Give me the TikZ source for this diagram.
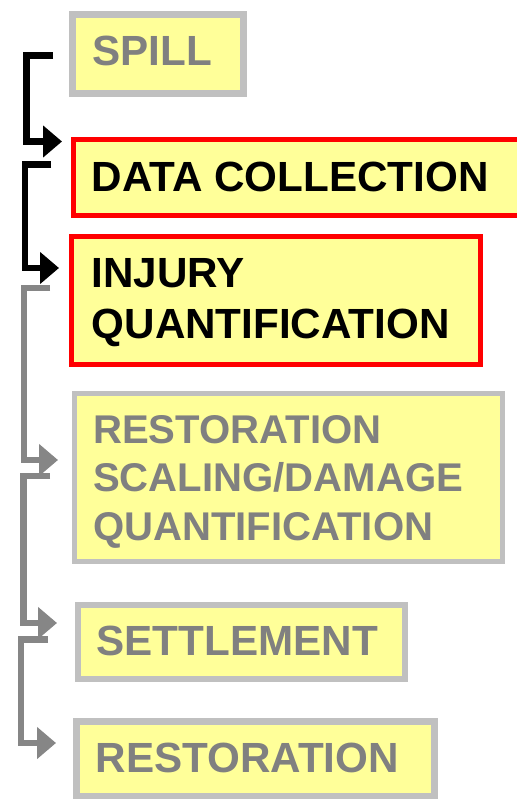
\documentclass[tikz,border=0pt]{standalone}
\usepackage{fontspec}
\setmainfont{Liberation Sans}
\usetikzlibrary{arrows.meta}
\definecolor{boxfill}{HTML}{FFFF99}
\definecolor{boxgray}{HTML}{C0C0C0}
\definecolor{txtgray}{HTML}{808080}
\definecolor{linegray}{HTML}{868686}
\definecolor{boxred}{HTML}{FF0000}
\tikzset{
  stepbox/.style={fill=boxfill, inner sep=0pt, outer sep=0pt, anchor=north west},
  graybox/.style={stepbox, draw=boxgray},
  redbox/.style={stepbox, draw=boxred},
  steptext/.style={inner sep=0pt, anchor=base west, align=left, font=\bfseries\fontsize{42.2}{51}\selectfont},
  flow/.style={line width=6.5pt, -{Triangle[length=19pt,width=31pt]}},
}
\begin{document}
\begin{tikzpicture}[x=1pt,y=-1pt]
\useasboundingbox (0,0) rectangle (516,799);
% boxes
\node[graybox, line width=7pt, minimum width=171pt, minimum height=79pt] (spill) at (72.5,14.5) {};
\node[redbox, line width=5pt, minimum width=445.5pt, minimum height=76pt] (data) at (73.5,139.5) {};
\node[redbox, line width=5pt, minimum width=409pt, minimum height=128pt] (injury) at (71.5,236.5) {};
\node[graybox, line width=5pt, minimum width=428pt, minimum height=168pt] (scaling) at (74.5,393.5) {};
\node[graybox, line width=6pt, minimum width=327pt, minimum height=74pt] (settle) at (78,605) {};
\node[graybox, line width=7pt, minimum width=358pt, minimum height=74.5pt] (rest) at (76.5,721.5) {};
% texts (base anchor = baseline of last line)
\node[steptext, text=txtgray] (spilltxt) at (92,66) {SPILL};
\node[steptext] (datatxt) at (91.5,192) {DATA COLLECTION};
\node[steptext] (injurytxt) at (91.5,338) {INJURY\\QUANTIFICATION};
\node[steptext, text=txtgray, font=\bfseries\fontsize{40.1}{48.5}\selectfont] (scalingtxt) at (93,540) {RESTORATION\\SCALING/DAMAGE\\QUANTIFICATION};
\node[steptext, text=txtgray] (settletxt) at (96.5,655) {SETTLEMENT};
\node[steptext, text=txtgray] (resttxt) at (95.5,772) {RESTORATION};
% connector ends
\coordinate (s1) at (53,55.5);   \coordinate (t1) at (62,141.5);
\coordinate (s2) at (51,164.5);  \coordinate (t2) at (59,268);
\coordinate (s3) at (50,288);    \coordinate (t3) at (58,460);
\coordinate (s4) at (50,476);    \coordinate (t4) at (57,623);
\coordinate (s5) at (48,639.5);  \coordinate (t5) at (56,743);
% connectors
\draw[flow, black] (s1) -- (26.5,55.5) |- (t1);
\draw[flow, black] (s2) -- (25,164.5) |- (t2);
\draw[flow, linegray] (s3) -- (24,288) |- (t3);
\draw[flow, linegray] (s4) -- (23.5,476) |- (t4);
\draw[flow, linegray] (s5) -- (21,639.5) |- (t5);
\end{tikzpicture}
\end{document}
